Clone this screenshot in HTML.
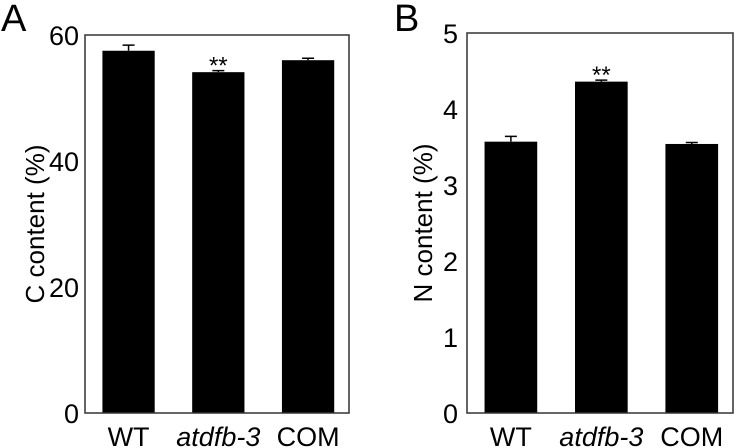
<!DOCTYPE html>
<html><head><meta charset="utf-8"><style>
body{margin:0;background:#fff;}
svg{display:block;font-family:"Liberation Sans",Arial,sans-serif;}
</style></head><body>
<svg id="chart" width="737" height="448"></svg>
<script>
const categories = ["WT", "atdfb-3", "COM"];
const cValues = [57.5, 54.1, 56.0];
const cErrors = [0.9, 0.25, 0.3];
const cTicks = [0, 20, 40, 60];
const nValues = [3.57, 4.36, 3.54];
const nErrors = [0.07, 0.02, 0.02];
const nTicks = [0, 1, 2, 3, 4, 5];
const sigMarks = ["", "**", ""];

const NS = "http://www.w3.org/2000/svg";
const svg = document.getElementById("chart");
function mk(tag, attrs, parent) {
  const e = document.createElementNS(NS, tag);
  for (const k in attrs) e.setAttribute(k, attrs[k]);
  (parent || svg).appendChild(e);
  return e;
}
function panel(p) {
  const g = mk("g", {});
  
  
  const y = v => p.y0 - (v / p.max) * (p.y0 - p.y1);
  const bw = (p.x1 - p.x0) / 5.05;
  const cx = i => p.x0 + (p.x1 - p.x0) * (0.165 + i * 0.34);
  const lab = mk("text", {x: p.lx, y: 31, "font-size": 38}, g);
  lab.textContent = p.letter;
  
  
  p.values.forEach((v, i) => {
    const c = cx(i);
    const b = mk("rect", {x: c - bw / 2, y: y(v), width: bw, height: p.y0 - y(v), fill: "#000"}, g);
    
    
    const et = y(v + p.errs[i]);
    const e = mk("path", {d: `M${c},${y(v)}V${et}M${c - 6},${et}H${c + 6}`, stroke: "#000", "stroke-width": 1.5, fill: "none"}, g);
    
    
    if (sigMarks[i]) {
      const s = mk("text", {x: c, y: et + 3, "font-size": 24, "text-anchor": "middle"}, g);
      s.textContent = sigMarks[i];
      
      
    }
    const t = mk("text", {x: c, y: 446, "font-size": 27, "text-anchor": "middle", "font-style": i === 1 ? "italic" : "normal"}, g);
    t.textContent = categories[i];
    
    
  });
  const f = mk("rect", {x: p.x0, y: p.y1, width: p.x1 - p.x0, height: p.y0 - p.y1, fill: "none", stroke: "#333", "stroke-width": 1.5}, g);
  
  
  p.ticks.forEach(tv => {
    const t = mk("text", {x: p.tx, y: y(tv) + 10, "font-size": 27, "text-anchor": "end"}, g);
    t.textContent = tv;
    
    
  });
  const yt = mk("text", {x: 0, y: 0, "font-size": 26, "text-anchor": "middle", transform: `translate(${p.ttx},${(p.y0 + p.y1) / 2}) rotate(-90)`}, g);
  yt.textContent = p.title;
  
  
}
panel({name: "panel-a-carbon", letter: "A", lx: 1, x0: 85, x1: 349, y0: 413, y1: 35, max: 60, values: cValues, errs: cErrors, ticks: cTicks, tx: 79, ttx: 44, title: "C content (%)"});
panel({name: "panel-b-nitrogen", letter: "B", lx: 394, x0: 467, x1: 733, y0: 413, y1: 33, max: 5, values: nValues, errs: nErrors, ticks: nTicks, tx: 458, ttx: 432, title: "N content (%)"});
</script>
</body></html>
